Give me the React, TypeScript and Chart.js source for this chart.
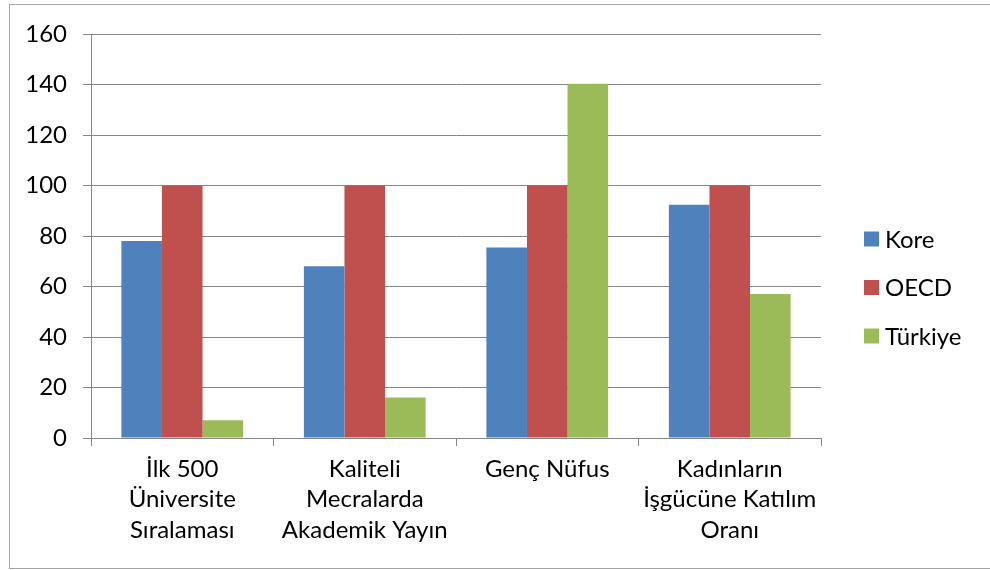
import React, { useEffect, useRef } from "react";
import { Chart, registerables } from "chart.js";

Chart.register(...registerables);

const categories: string[][] = [
  ["İlk 500", "Üniversite", "Sıralaması"],
  ["Kaliteli", "Mecralarda", "Akademik Yayın"],
  ["Genç Nüfus"],
  ["Kadınların", "İşgücüne Katılım", "Oranı"],
];
const koreValues = [78, 68, 75.4, 92.4];
const oecdValues = [100, 100, 100, 100];
const turkiyeValues = [7, 16, 140.3, 57];
const seriesNames = ["Kore", "OECD", "Türkiye"];
const seriesColors = ["#4F81BD", "#C0504D", "#9BBB59"];
const yMin = 0;
const yMax = 160;
const yStep = 20;

const FONT = "Lato, 'Open Sans', sans-serif";
const GRID = "#868686";

const frameAndLegend = {
  id: "frameAndLegend",
  afterDraw(chart: any) {
    const ctx = chart.ctx;
    ctx.save();
    ctx.strokeStyle = "#A6A6A6";
    ctx.lineWidth = 1;
    ctx.strokeRect(9.5, 4.5, 1000, 564);
    const ds = chart.data.datasets;
    ctx.font = `24px ${FONT}`;
    ctx.textBaseline = "middle";
    ctx.textAlign = "left";
    const x0 = 864;
    const yStart = 239;
    const gap = 48.5;
    ds.forEach((d: any, i: number) => {
      const y = yStart + i * gap;
      ctx.fillStyle = d.backgroundColor;
      ctx.fillRect(x0, y - 7.5, 15, 15);
      ctx.fillStyle = "#000";
      ctx.fillText(d.label, x0 + 21, y + 1);
    });
    ctx.restore();
  },
};

export default function App() {
  const ref = useRef<HTMLCanvasElement | null>(null);
  useEffect(() => {
    document.body.style.margin = "0";
    const canvas = ref.current;
    if (!canvas) return;
    const values = [koreValues, oecdValues, turkiyeValues];
    const chart = new Chart(canvas, {
      type: "bar",
      data: {
        labels: categories,
        datasets: seriesNames.map((name, i) => ({
          label: name,
          data: values[i],
          backgroundColor: seriesColors[i],
          borderWidth: 0,
          categoryPercentage: 0.667,
          barPercentage: 1,
        })),
      },
      options: {
        responsive: false,
        animation: false,
        maintainAspectRatio: false,
        layout: { padding: { left: 0, top: 34, right: 169, bottom: 0 } },
        plugins: {
          legend: { display: false },
          tooltip: { enabled: false },
          title: { display: false },
        },
        scales: {
          x: {
            grid: {
              offset: true,
              drawOnChartArea: false,
              drawTicks: true,
              tickLength: 8,
              color: GRID,
              lineWidth: 1,
            },
            border: { color: GRID, width: 1 },
            ticks: {
              color: "#000",
              font: { family: FONT, size: 24, lineHeight: 1.27 },
              padding: 8,
              maxRotation: 0,
              autoSkip: false,
            },
            afterFit: (s: any) => {
              s.height = 132;
            },
          },
          y: {
            min: yMin,
            max: yMax,
            ticks: {
              stepSize: yStep,
              color: "#000",
              font: { family: FONT, size: 24 },
              padding: 16,
            },
            grid: { color: GRID, lineWidth: 1, tickLength: 8 },
            border: { color: GRID, width: 1 },
            afterFit: (s: any) => {
              s.width = 91;
            },
          },
        },
      },
      plugins: [frameAndLegend],
    });
    return () => chart.destroy();
  }, []);
  return (
    <div style={{ width: 990, height: 570, background: "#fff" }}>
      <canvas ref={ref} width={990} height={570} style={{ display: "block" }} />
    </div>
  );
}
